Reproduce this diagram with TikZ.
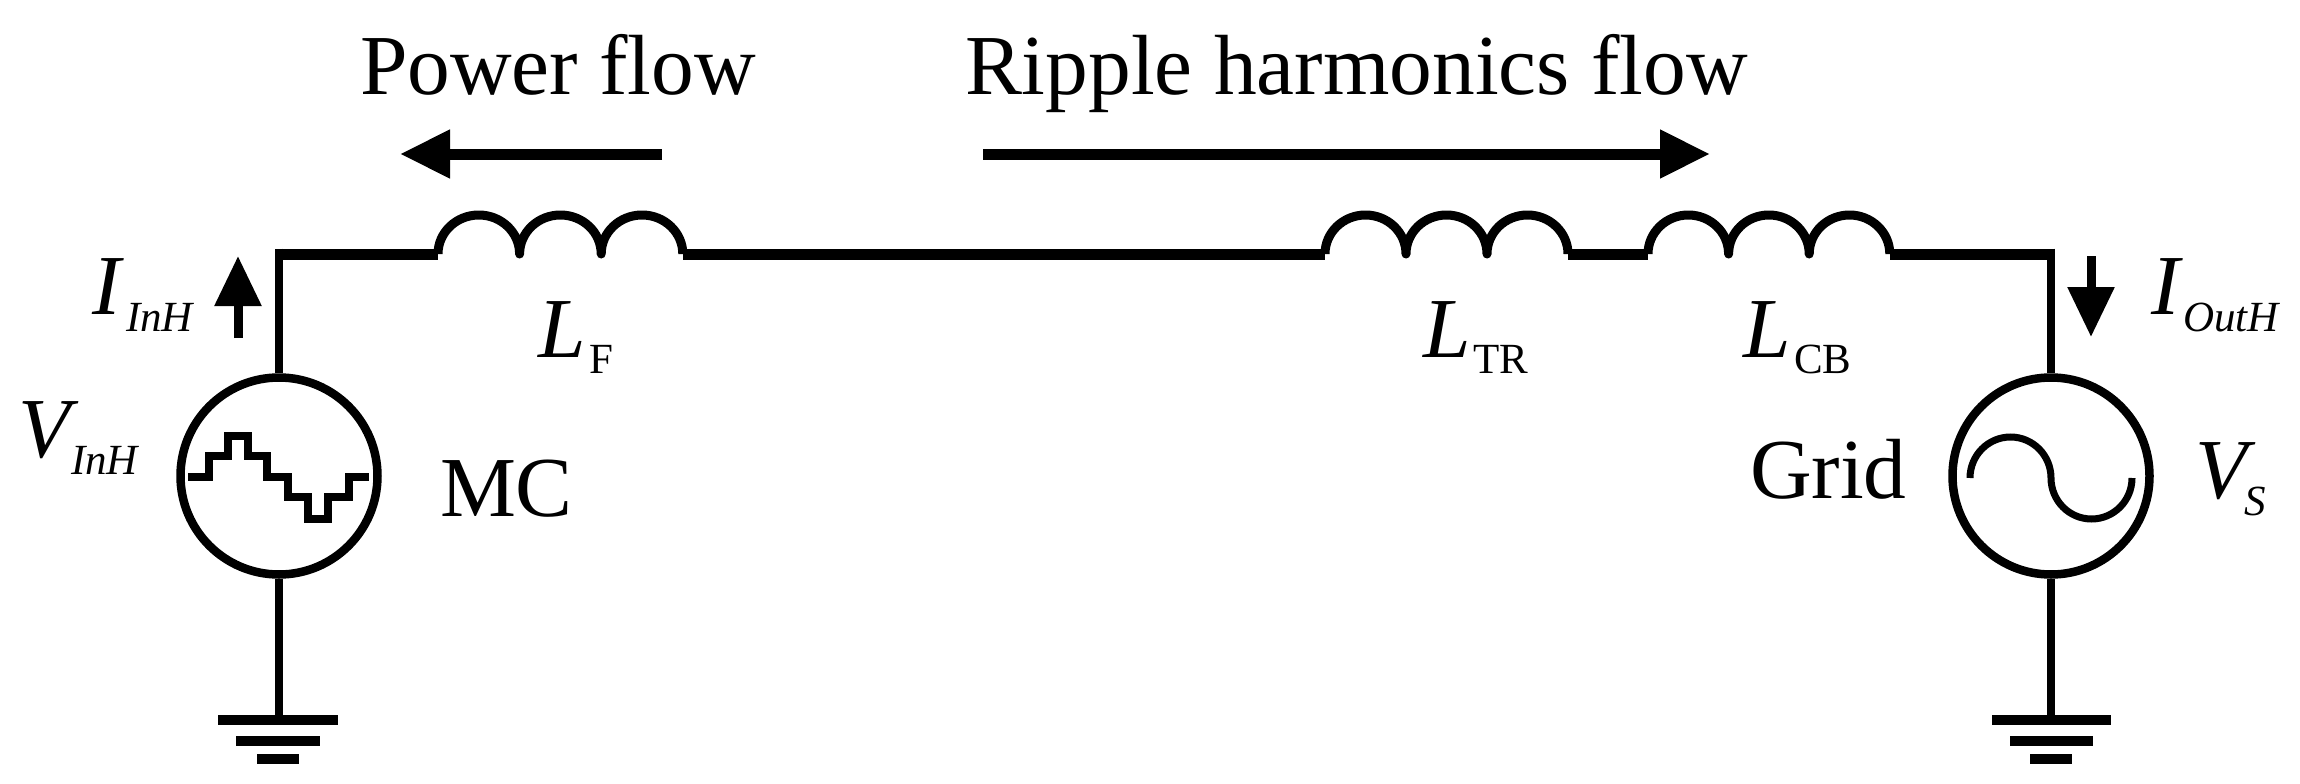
\documentclass[tikz,border=0pt]{standalone}
\usepackage{fontspec}
\setmainfont{Liberation Serif}
\usetikzlibrary{arrows.meta}
\newcommand{\bigsz}{\fontsize{85.4}{90}\selectfont}
\newcommand{\subsz}{\fontsize{43}{46}\selectfont}
\tikzset{
  vwire/.style={line width=7.5pt,line cap=butt},
  hwire/.style={line width=11pt,line cap=butt},
  coilline/.style={line width=9pt,line cap=butt,line join=round},
  source/.style={circle,draw,line width=8.5pt,minimum size=197pt,inner sep=0pt},
  gbar/.style={line width=9.5pt,line cap=butt},
  wave/.style={line width=8.5pt,line join=miter},
  flow/.style={line width=11pt,-{Triangle[length=50pt,width=46pt]}},
  cur/.style={line width=9pt,-{Triangle[length=50pt,width=45pt]}},
  lab/.style={anchor=base west,inner sep=0pt,outer sep=0pt},
  big/.style={lab,font=\bigsz},
  bigi/.style={lab,font=\bigsz\itshape},
  subr/.style={lab,font=\subsz},
  subi/.style={lab,font=\subsz\itshape}
}
\begin{document}
\begin{tikzpicture}[x=1pt,y=1pt]
\useasboundingbox (0,0) rectangle (2300,-784);
% sources
\node[source] (mc) at (279,-476) {};
\node[source] (grid) at (2051,-476) {};
% coordinates
\coordinate (cl) at (279,-254);
\coordinate (cr) at (2051,-254);
\coordinate (lfa) at (438,-254);
\coordinate (lfb) at (683,-254);
\coordinate (ltra) at (1325,-254);
\coordinate (ltrb) at (1568,-254);
\coordinate (lcba) at (1648,-254);
\coordinate (lcbb) at (1890,-254);
\coordinate (gl1a) at (218,-720); \coordinate (gl1b) at (338,-720);
\coordinate (gl2a) at (236,-741); \coordinate (gl2b) at (320,-741);
\coordinate (gl3a) at (257,-759); \coordinate (gl3b) at (299,-759);
\coordinate (gl) at (279,-720);
\coordinate (gr1a) at (1992,-720); \coordinate (gr1b) at (2111,-720);
\coordinate (gr2a) at (2010,-741); \coordinate (gr2b) at (2093,-741);
\coordinate (gr3a) at (2030,-759); \coordinate (gr3b) at (2072,-759);
\coordinate (gr) at (2051,-720);
% wires
\draw[vwire] ([yshift=5.5pt]cl) -- (mc.north);
\draw[vwire] ([yshift=5.5pt]cr) -- (grid.north);
\draw[vwire] (mc.south) -- (gl);
\draw[vwire] (grid.south) -- (gr);
\draw[hwire] ([xshift=-3.75pt]cl) -- (lfa);
\draw[hwire] (lfb) -- (ltra);
\draw[hwire] (ltrb) -- (lcba);
\draw[hwire] (lcbb) -- ([xshift=3.75pt]cr);
% inductors
\draw[coilline] (lfa) arc[start angle=180,end angle=0,x radius=40.8,y radius=39]
  arc[start angle=180,end angle=0,x radius=40.8,y radius=39]
  arc[start angle=180,end angle=0,x radius=40.8,y radius=39];
\draw[coilline] (ltra) arc[start angle=180,end angle=0,x radius=40.5,y radius=39]
  arc[start angle=180,end angle=0,x radius=40.5,y radius=39]
  arc[start angle=180,end angle=0,x radius=40.5,y radius=39];
\draw[coilline] (lcba) arc[start angle=180,end angle=0,x radius=40.3,y radius=39]
  arc[start angle=180,end angle=0,x radius=40.3,y radius=39]
  arc[start angle=180,end angle=0,x radius=40.3,y radius=39];
% grounds
\draw[gbar] (gl1a) -- (gl1b);
\draw[gbar] (gl2a) -- (gl2b);
\draw[gbar] (gl3a) -- (gl3b);
\draw[gbar] (gr1a) -- (gr1b);
\draw[gbar] (gr2a) -- (gr2b);
\draw[gbar] (gr3a) -- (gr3b);
% staircase wave
\draw[wave] (188,-477) -- (209,-477) -- (209,-456) -- (228,-456) -- (228,-436) -- (248,-436)
  -- (248,-456) -- (267,-456) -- (267,-477) -- (288,-477) -- (288,-497) -- (308,-497)
  -- (308,-519) -- (328,-519) -- (328,-497) -- (349,-497) -- (349,-477) -- (369,-477);
% sine wave
\draw[line width=7pt] (1970,-478) arc[start angle=180,end angle=0,x radius=40.5,y radius=41]
  arc[start angle=180,end angle=360,x radius=40.5,y radius=41];
% flow arrows
\coordinate (pfa) at (662,-154); \coordinate (pfb) at (400,-154);
\coordinate (rfa) at (983,-154); \coordinate (rfb) at (1710,-154);
\draw[flow] (pfa) -- (pfb);
\draw[flow] (rfa) -- (rfb);
% current arrows
\coordinate (ila) at (238,-338); \coordinate (ilb) at (238,-256);
\coordinate (ira) at (2091,-256); \coordinate (irb) at (2091,-337);
\draw[cur] (ila) -- (ilb);
\draw[cur] (ira) -- (irb);
% labels
\node[big] (t1) at (360,-95) {Power flow};
\node[big] (t2) at (965,-95) {Ripple harmonics flow};
\node[big] (mct) at (440,-516) {MC};
\node[big] (gt) at (1750,-498) {Grid};
\node[bigi] (i1) at (92,-314) {I};
\node[subi] (i1s) at (126,-331) {InH};
\node[bigi] (v1) at (18,-457) {V};
\node[subi] (v1s) at (71,-474) {InH};
\node[bigi] (l1) at (538,-357) {L};
\node[subr] (l1s) at (589,-373) {F};
\node[bigi] (l2) at (1423,-357) {L};
\node[subr] (l2s) at (1473,-373) {TR};
\node[bigi] (l3) at (1743,-357) {L};
\node[subr] (l3s) at (1794,-373) {CB};
\node[bigi] (i2) at (2151,-314) {I};
\node[subi] (i2s) at (2183,-331) {OutH};
\node[bigi] (v2) at (2195,-498) {V};
\node[subi] (v2s) at (2244,-515) {S};
\end{tikzpicture}
\end{document}
